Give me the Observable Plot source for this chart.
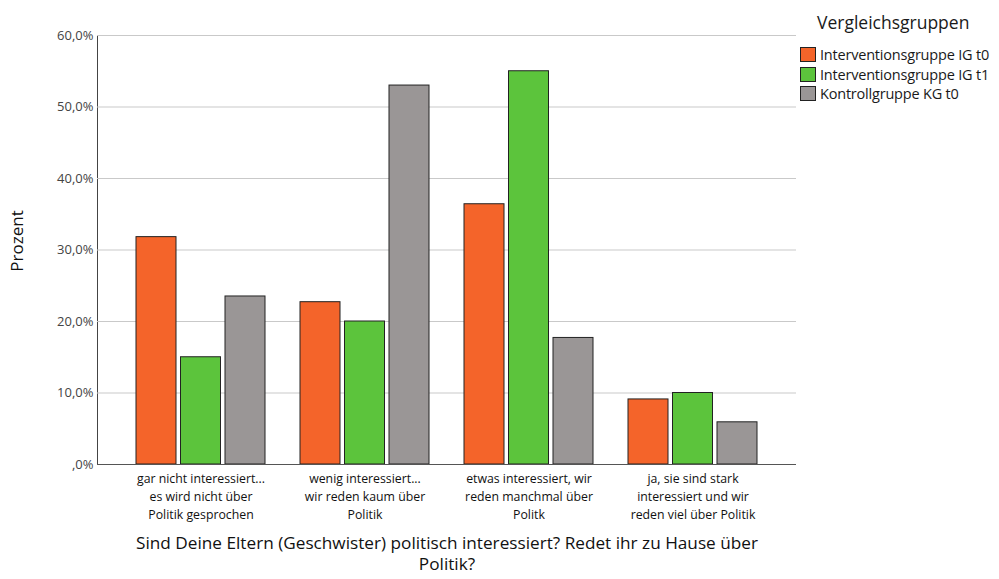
<!DOCTYPE html>
<html>
<head>
<meta charset="utf-8">
<script src="https://cdn.jsdelivr.net/npm/d3@7"></script>
<script src="https://cdn.jsdelivr.net/npm/@observablehq/plot@0.6"></script>
<style>
  body { margin: 0; background: #fff; font-family: "Open Sans", sans-serif; }
  #wrap { position: relative; width: 999px; height: 579px; }
  #legend { position: absolute; left: 800px; top: 12px; color: #1a1a1a; white-space: nowrap; }
  #legend .title { font-size: 17.5px; line-height: 20px; margin-left: 17px; margin-bottom: 13px; }
  #legend .item { display: flex; align-items: center; height: 19.5px; font-size: 14.5px; letter-spacing: -0.2px; }
  #legend .sw { width: 16px; height: 15px; border: 1px solid #222; margin-right: 4px; box-sizing: border-box; flex: none; }
</style>
</head>
<body>
<div id="wrap"></div>
<script>
const categories = ["gar", "wenig", "etwas", "ja"];
const categoryLabels = [
  "gar nicht interessiert...\nes wird nicht über\nPolitik gesprochen",
  "wenig interessiert...\nwir reden kaum über\nPolitik",
  "etwas interessiert, wir\nreden manchmal über\nPolitk",
  "ja, sie sind stark\ninteressiert und wir\nreden viel über Politik"
];
const seriesNames = ["Interventionsgruppe IG t0", "Interventionsgruppe IG t1", "Kontrollgruppe KG t0"];
const seriesColors = ["#f4642a", "#5cc43c", "#9a9696"];
const igT0 = [31.8, 22.7, 36.4, 9.1];
const igT1 = [15.0, 20.0, 55.0, 10.0];
const kgT0 = [23.5, 53.0, 17.7, 5.9];
const yTicks = [0, 10, 20, 30, 40, 50, 60];
const yTickLabels = [",0%", "10,0%", "20,0%", "30,0%", "40,0%", "50,0%", "60,0%"];
const yTitle = "Prozent";
const xTitle = "Sind Deine Eltern (Geschwister) politisch interessiert? Redet ihr zu Hause über\nPolitik?";
const legendTitle = "Vergleichsgruppen";

const seriesValues = [igT0, igT1, kgT0];
const rows = [];
seriesNames.forEach((s, si) => categories.forEach((c, ci) => rows.push({category: c, series: s, value: seriesValues[si][ci]})));

const barWidth = 41, barStep = 44.5, bandWidth = 130;
const barMarks = seriesNames.map((s, i) => Plot.barY(rows.filter(r => r.series === s), {
  x: "category", y: "value", fill: "series",
  stroke: "#222", strokeWidth: 1,
  insetLeft: i * barStep, insetRight: bandWidth - barWidth - i * barStep
}));

const chart = Plot.plot({
  width: 999,
  height: 579,
  marginLeft: 97,
  marginRight: 203,
  marginTop: 35,
  marginBottom: 115,
  style: {fontFamily: "Open Sans, sans-serif", fontSize: "13px", color: "#444", background: "transparent"},
  x: {domain: categories, paddingInner: 0.212, paddingOuter: 0.226, axis: null},
  y: {domain: [0, 60], ticks: yTicks, tickFormat: d => yTickLabels[yTicks.indexOf(d)], tickSize: 0, tickPadding: 4, line: true, label: null},
  color: {domain: seriesNames, range: seriesColors},
  marks: [
    Plot.ruleY(yTicks.filter(d => d > 0), {stroke: "#c9c9c9", strokeWidth: 1}),
    ...barMarks,
    Plot.ruleY([0], {stroke: "#555", strokeWidth: 1}),
    Plot.text(categories, {x: d => d, text: (d, i) => categoryLabels[i], frameAnchor: "bottom", lineAnchor: "top", dy: 6, fontSize: 12.3, lineHeight: 1.45, fill: "#111"}),
    Plot.text([xTitle], {frameAnchor: "bottom", lineAnchor: "top", dy: 70, fontSize: 17.2, lineHeight: 1.22, fill: "#111"}),
    Plot.text([yTitle], {frameAnchor: "left", textAnchor: "middle", rotate: -90, dx: -80, dy: -9, fontSize: 17, fill: "#111"})
  ]
});

const wrap = document.getElementById("wrap");
wrap.appendChild(chart);
const legend = document.createElement("div");
legend.id = "legend";
const t = document.createElement("div");
t.className = "title";
t.textContent = legendTitle;
legend.appendChild(t);
seriesNames.forEach((s, i) => {
  const it = document.createElement("div");
  it.className = "item";
  const sw = document.createElement("div");
  sw.className = "sw";
  sw.style.background = seriesColors[i];
  const lab = document.createElement("span");
  lab.textContent = s;
  it.appendChild(sw);
  it.appendChild(lab);
  legend.appendChild(it);
});
wrap.appendChild(legend);
</script>
</body>
</html>
